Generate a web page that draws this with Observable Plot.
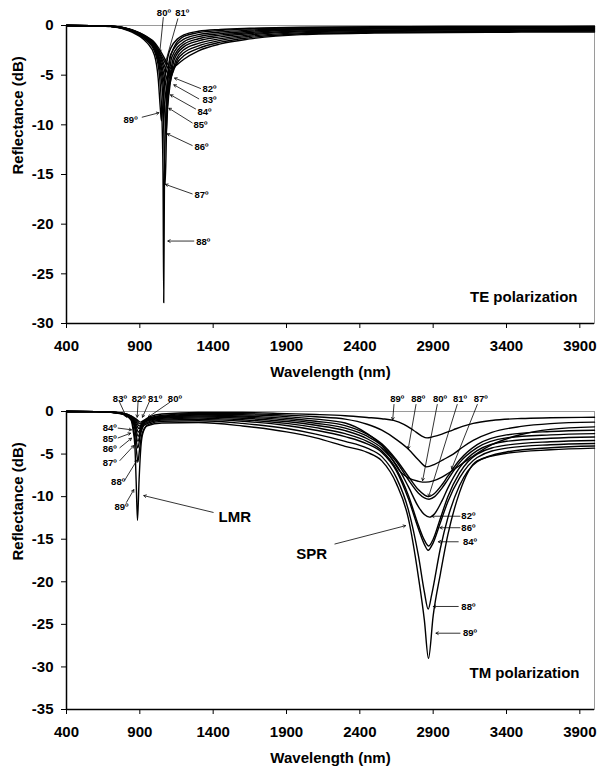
<!DOCTYPE html>
<html><head><meta charset="utf-8">
<script src="https://cdn.jsdelivr.net/npm/d3@7"></script>
<script src="https://cdn.jsdelivr.net/npm/@observablehq/plot@0.6"></script>
<style>
body{margin:0;background:#fff;}
#chart{width:597px;}
#chart svg{display:block;}
</style></head><body><div id="chart"></div>
<script>
const FONT = "'Liberation Sans', Arial, Helvetica, sans-serif";
const xDomain = [400, 4000];
const xTicks = [400, 900, 1400, 1900, 2400, 2900, 3400, 3900];
const teYDomain = [-30, 0];
const teYTicks = [-30, -25, -20, -15, -10, -5, 0];
const tmYDomain = [-35, 0];
const tmYTicks = [-35, -30, -25, -20, -15, -10, -5, 0];
const angles = [80, 81, 82, 83, 84, 85, 86, 87, 88, 89];

// TE polarization: [wavelength nm, reflectance dB]
const te80 = [[400,0],[600,-0.03],[700,-0.07],[750,-0.12],[800,-0.25],[850,-0.45],[900,-0.75],[950,-1.15],[1000,-1.7],[1042,-2.6],[1080,-3.6],[1110,-4.3],[1140,-4.1],[1170,-3.75],[1200,-3.4],[1300,-2.55],[1450,-1.85],[1650,-1.35],[2000,-0.92],[2500,-0.76],[3000,-0.7],[3500,-0.67],[4000,-0.65]];
const te81 = [[400,0],[600,-0.03],[700,-0.07],[750,-0.13],[800,-0.26],[850,-0.47],[900,-0.78],[950,-1.2],[1000,-1.8],[1040,-2.8],[1078,-3.9],[1108,-4.6],[1135,-4.25],[1165,-3.55],[1200,-3.05],[1300,-2.3],[1450,-1.68],[1650,-1.22],[2000,-0.83],[2500,-0.68],[3000,-0.62],[3500,-0.59],[4000,-0.57]];
const te82 = [[400,0],[600,-0.03],[700,-0.07],[750,-0.13],[800,-0.27],[850,-0.49],[900,-0.8],[950,-1.25],[1000,-1.9],[1040,-3.0],[1075,-4.3],[1105,-5.3],[1128,-4.6],[1158,-3.4],[1200,-2.75],[1300,-2.05],[1450,-1.5],[1650,-1.08],[2000,-0.74],[2500,-0.6],[3000,-0.54],[3500,-0.51],[4000,-0.5]];
const te83 = [[400,0],[600,-0.03],[700,-0.08],[750,-0.14],[800,-0.28],[850,-0.5],[900,-0.82],[950,-1.3],[1000,-2.0],[1040,-3.2],[1072,-4.7],[1100,-6.0],[1120,-4.9],[1148,-3.4],[1200,-2.45],[1300,-1.8],[1450,-1.32],[1650,-0.95],[2000,-0.64],[2500,-0.52],[3000,-0.47],[3500,-0.44],[4000,-0.43]];
const te84 = [[400,0],[600,-0.03],[700,-0.08],[750,-0.15],[800,-0.29],[850,-0.52],[900,-0.85],[950,-1.35],[1000,-2.1],[1040,-3.5],[1068,-5.2],[1094,-7.1],[1112,-5.2],[1135,-3.4],[1200,-2.15],[1300,-1.55],[1450,-1.14],[1650,-0.82],[2000,-0.55],[2500,-0.44],[3000,-0.4],[3500,-0.37],[4000,-0.36]];
const te85 = [[400,0],[600,-0.03],[700,-0.08],[750,-0.15],[800,-0.3],[850,-0.54],[900,-0.88],[950,-1.4],[1000,-2.2],[1040,-3.8],[1066,-5.8],[1088,-8.3],[1104,-5.6],[1128,-3.3],[1200,-1.9],[1300,-1.33],[1450,-0.97],[1650,-0.7],[2000,-0.46],[2500,-0.37],[3000,-0.33],[3500,-0.31],[4000,-0.3]];
const te86 = [[400,0],[600,-0.03],[700,-0.09],[750,-0.16],[800,-0.31],[850,-0.56],[900,-0.92],[950,-1.45],[1000,-2.3],[1040,-4.2],[1062,-6.5],[1080,-10.9],[1094,-6.5],[1118,-3.2],[1200,-1.65],[1300,-1.12],[1450,-0.82],[1650,-0.58],[2000,-0.38],[2500,-0.3],[3000,-0.27],[3500,-0.25],[4000,-0.24]];
const te87 = [[400,0],[600,-0.03],[700,-0.09],[750,-0.17],[800,-0.33],[850,-0.59],[900,-0.96],[950,-1.5],[1000,-2.4],[1040,-4.8],[1058,-7.5],[1073,-16],[1086,-7.5],[1108,-3.0],[1200,-1.38],[1300,-0.92],[1450,-0.66],[1650,-0.47],[2000,-0.3],[2500,-0.23],[3000,-0.2],[3500,-0.19],[4000,-0.18]];
const te88 = [[400,0],[600,-0.03],[700,-0.09],[750,-0.18],[800,-0.35],[850,-0.62],[900,-1.0],[950,-1.55],[1000,-2.6],[1030,-4.5],[1050,-9],[1058,-15],[1063,-27.9],[1068,-15],[1077,-9],[1095,-4.2],[1130,-2.3],[1200,-1.1],[1300,-0.72],[1450,-0.5],[1650,-0.35],[2000,-0.22],[2500,-0.16],[3000,-0.14],[3500,-0.13],[4000,-0.12]];
const te89 = [[400,0],[600,-0.04],[700,-0.1],[750,-0.2],[800,-0.4],[850,-0.7],[900,-1.1],[950,-1.75],[1000,-3.0],[1025,-5.3],[1040,-8.4],[1047,-9.6],[1056,-8.2],[1075,-4.6],[1110,-2.3],[1200,-0.95],[1300,-0.58],[1450,-0.4],[1650,-0.28],[2000,-0.17],[2500,-0.12],[3000,-0.1],[3500,-0.09],[4000,-0.08]];

// TM polarization
const tm80 = [[400,0],[600,-0.02],[700,-0.06],[780,-0.18],[840,-0.5],[880,-0.95],[905,-1.25],[930,-1.0],[970,-0.6],[1050,-0.3],[1300,-0.12],[1600,-0.12],[1900,-0.25],[2100,-0.35],[2300,-0.5],[2450,-0.7],[2550,-0.85],[2630,-1.05],[2700,-1.5],[2765,-2.2],[2820,-2.85],[2858,-3.1],[2900,-2.95],[2960,-2.65],[3037,-2.15],[3100,-1.75],[3173,-1.4],[3300,-1.05],[3500,-0.82],[3700,-0.74],[4000,-0.67]];
const tm81 = [[400,0],[600,-0.02],[700,-0.07],[780,-0.2],[840,-0.55],[875,-1.05],[901,-1.45],[925,-1.15],[960,-0.8],[1050,-0.45],[1300,-0.22],[1600,-0.25],[1900,-0.42],[2100,-0.62],[2300,-0.9],[2450,-1.5],[2550,-2.2],[2650,-3.3],[2730,-4.4],[2800,-5.7],[2855,-6.5],[2910,-6.2],[2970,-5.65],[3037,-5.0],[3100,-4.2],[3173,-3.4],[3300,-2.45],[3500,-1.75],[3700,-1.42],[4000,-1.25]];
const tm82 = [[400,0],[600,-0.02],[700,-0.07],[780,-0.21],[840,-0.6],[872,-1.15],[897,-1.7],[920,-1.3],[955,-0.9],[1050,-0.55],[1300,-0.32],[1600,-0.38],[1900,-0.6],[2100,-0.9],[2300,-1.35],[2450,-2.6],[2550,-4.0],[2620,-5.6],[2673,-7.0],[2730,-7.8],[2800,-8.2],[2850,-8.3],[2900,-8.15],[2960,-7.7],[3026,-7.0],[3100,-6.1],[3200,-4.9],[3300,-3.9],[3500,-2.7],[3700,-2.1],[4000,-1.8]];
const tm83 = [[400,0],[600,-0.02],[700,-0.07],[780,-0.22],[840,-0.65],[870,-1.3],[894,-2.0],[915,-1.5],[950,-1.0],[1050,-0.62],[1300,-0.42],[1600,-0.52],[1900,-0.8],[2100,-1.15],[2300,-1.65],[2450,-2.65],[2550,-3.8],[2650,-5.7],[2730,-7.6],[2800,-9.2],[2840,-9.8],[2868,-10.0],[2900,-9.75],[2960,-8.6],[3000,-7.6],[3080,-5.7],[3200,-3.9],[3400,-2.75],[3700,-2.35],[4000,-2.2]];
const tm84 = [[400,0],[600,-0.02],[700,-0.08],[780,-0.23],[840,-0.7],[868,-1.45],[891,-2.4],[912,-1.7],[945,-1.1],[1050,-0.7],[1300,-0.53],[1600,-0.65],[1900,-0.98],[2100,-1.38],[2300,-1.95],[2450,-2.9],[2550,-4.0],[2650,-5.9],[2730,-8.0],[2800,-9.6],[2840,-10.15],[2872,-10.3],[2910,-10.0],[2960,-9.0],[3000,-8.0],[3080,-6.0],[3200,-4.25],[3400,-3.1],[3700,-2.75],[4000,-2.6]];
const tm85 = [[400,0],[600,-0.02],[700,-0.08],[780,-0.24],[840,-0.75],[866,-1.6],[889,-2.9],[910,-1.9],[940,-1.2],[1050,-0.8],[1300,-0.65],[1600,-0.8],[1900,-1.18],[2100,-1.62],[2300,-2.25],[2450,-3.2],[2550,-4.3],[2650,-6.3],[2730,-8.8],[2800,-11.2],[2840,-12.1],[2875,-12.4],[2910,-12.0],[2960,-10.5],[3000,-9.0],[3080,-6.6],[3200,-4.6],[3400,-3.5],[3700,-3.15],[4000,-3.0]];
const tm86 = [[400,0],[600,-0.02],[700,-0.08],[780,-0.25],[840,-0.8],[865,-1.75],[887,-3.5],[907,-2.3],[935,-1.4],[1050,-0.9],[1300,-0.78],[1600,-0.97],[1900,-1.4],[2100,-1.9],[2300,-2.6],[2450,-3.5],[2550,-4.6],[2650,-6.8],[2730,-9.8],[2800,-13.4],[2840,-15.1],[2870,-15.8],[2900,-15.0],[2950,-12.5],[3000,-10.0],[3080,-7.2],[3200,-5.0],[3400,-3.95],[3700,-3.55],[4000,-3.4]];
const tm87 = [[400,0],[600,-0.02],[700,-0.09],[780,-0.26],[840,-0.85],[866,-2.0],[886,-4.3],[904,-2.7],[930,-1.6],[1050,-1.0],[1300,-0.92],[1600,-1.15],[1900,-1.65],[2100,-2.2],[2300,-2.95],[2450,-3.8],[2550,-4.8],[2650,-7.0],[2730,-10.2],[2800,-13.8],[2840,-15.6],[2866,-16.3],[2895,-15.6],[2950,-13.0],[3000,-10.6],[3080,-7.8],[3200,-5.4],[3400,-4.3],[3700,-3.9],[4000,-3.75]];
const tm88 = [[400,0],[600,-0.02],[700,-0.09],[780,-0.27],[840,-0.9],[866,-3.0],[877,-4.6],[887,-5.9],[897,-4.6],[910,-3.0],[930,-2.0],[960,-1.5],[1050,-1.15],[1300,-1.08],[1600,-1.4],[1900,-2.0],[2100,-2.65],[2300,-3.5],[2450,-4.3],[2550,-5.3],[2650,-7.8],[2730,-11.5],[2800,-17],[2840,-21.2],[2866,-23.2],[2890,-21.5],[2950,-16],[3000,-12.5],[3080,-8.7],[3200,-5.9],[3400,-4.75],[3700,-4.25],[4000,-4.05]];
const tm89 = [[400,0],[600,-0.02],[700,-0.1],[780,-0.3],[840,-1.0],[855,-2.3],[866,-4.0],[875,-8.2],[884,-12.8],[895,-8.0],[907,-4.2],[920,-2.6],[950,-1.7],[1050,-1.35],[1300,-1.3],[1600,-1.7],[1900,-2.4],[2100,-3.1],[2300,-4.1],[2450,-4.8],[2550,-5.8],[2650,-8.5],[2730,-12.5],[2800,-19.5],[2840,-24.5],[2868,-29],[2900,-24],[2950,-19],[3000,-14.5],[3080,-9.5],[3200,-5.8],[3400,-4.9],[3700,-4.5],[4000,-4.3]];

// annotation labels: [text, wavelength, dB]
const teLabels = [["80º",1064,1.24],["81º",1189,1.24],["82º",1375,-6.4],["83º",1375,-7.5],["84º",1341,-8.7],["85º",1314,-10.0],["86º",1320,-12.26],["87º",1320,-17.1],["88º",1332,-21.8],["89º",837,-9.5]];
const teArrows = [[1060,0.8,1036,-2.69],[1159,0.67,1075,-3.7],[1314,-6.34,1137,-5.29],[1302,-7.38,1132,-5.97],[1280,-8.4,1109,-6.98],[1257,-9.8,1098,-8.33],[1257,-12.08,1087,-10.9],[1257,-16.95,1075,-16.0],[1268,-21.7,1091,-21.7],[916,-9.23,1030,-8.79]];
const tmLabels = [["83º",764,1.53],["82º",893,1.53],["81º",1004,1.53],["80º",1139,1.53],
  ["84º",695,-1.95],["85º",695,-3.2],["86º",695,-4.45],["87º",695,-6.1],["88º",752,-8.32],["89º",775,-11.26],
  ["89º",2655,1.49],["88º",2798,1.49],["80º",2946,1.49],["81º",3083,1.49],["87º",3224,1.49],
  ["82º",3140,-12.3],["86º",3140,-13.65],["84º",3151,-15.3],["88º",3140,-22.9],["89º",3151,-26.04]];
const tmBigLabels = [["LMR",1548,-12.43],["SPR",2071,-16.74]];
const tmArrows = [[759,1.21,809,-0.67],[888,1.21,882,-0.67],[963,1.09,918,-0.67],[1105,1.09,957,-0.67],
  [752,-1.95,843,-2.15],[752,-3.1,837,-2.55],[764,-4.25,843,-3.14],[764,-5.76,859,-4.0],[798,-8.04,882,-5.68],[809,-10.67,859,-9.18],
  [1400,-11.85,927,-9.88],
  [2633,0.82,2624,-0.98],[2783,0.82,2730,-4.39],[2928,0.82,2828,-8.12],[3064,0.82,2869,-10.0],[3201,0.82,3026,-6.74],
  [3083,-12.3,2890,-12.3],[3083,-13.65,2946,-13.65],[3071,-15.3,2935,-15.3],[3071,-22.9,2901,-22.9],[3083,-26.04,2919,-26.04],
  [2230,-15.56,2712,-13.41]];

const teCurves = [te80, te81, te82, te83, te84, te85, te86, te87, te88, te89];
const tmCurves = [tm80, tm81, tm82, tm83, tm84, tm85, tm86, tm87, tm88, tm89];
const toRows = curves => angles.flatMap((a, i) => curves[i].map(([wl, db]) => ({angle: a, wl, db})));
const toLabels = arr => arr.map(([t, x, y]) => ({t, x, y}));
const toArrows = arr => arr.map(([x1, y1, x2, y2]) => ({x1, y1, x2, y2}));

function panel({curves, yDomain, yTicks, height, marginTop, marginBottom, labels, big, arrows, pol, polDx, polDy}) {
  return Plot.plot({
    width: 597, height, marginLeft: 66, marginRight: 3, marginTop, marginBottom,
    style: {fontFamily: FONT, fontWeight: "bold", fontSize: "15px", background: "#fff", color: "#000"},
    x: {domain: xDomain},
    y: {domain: yDomain},
    marks: [
      Plot.frame({stroke: "#9a9a9a", strokeWidth: 1}),
      Plot.line(toRows(curves), {x: "wl", y: "db", z: "angle", curve: "monotone-x", stroke: "#000", strokeWidth: 1.4}),
      Plot.ruleX([xDomain[0]], {stroke: "#000", strokeWidth: 1.5}),
      Plot.ruleY([yDomain[0]], {stroke: "#000", strokeWidth: 1.5}),
      Plot.axisX({ticks: xTicks, tickFormat: d => String(d), tickSize: 5, tickPadding: 12, fontSize: 15, fontWeight: "bold", label: null}),
      Plot.axisY({ticks: yTicks, tickFormat: d => String(d), tickSize: 5, tickPadding: 8, fontSize: 15, fontWeight: "bold", label: null}),
      Plot.arrow(toArrows(arrows), {x1: "x1", y1: "y1", x2: "x2", y2: "y2", stroke: "#000", strokeWidth: 0.8, headLength: 5}),
      Plot.text(toLabels(labels), {x: "x", y: "y", text: "t", fontSize: 9.5, fontWeight: "bold", fill: "#000"}),
      big ? Plot.text(toLabels(big), {x: "x", y: "y", text: "t", fontSize: 15, fontWeight: "bold", fill: "#000"}) : null,
      Plot.text(["Reflectance (dB)"], {text: d => d, frameAnchor: "left", dx: -48, rotate: -90, fontSize: 15, fontWeight: "bold", fill: "#000"}),
      Plot.text(["Wavelength (nm)"], {text: d => d, frameAnchor: "bottom", dy: 49, lineAnchor: "middle", fontSize: 15, fontWeight: "bold", fill: "#000"}),
      Plot.text([pol], {text: d => d, frameAnchor: "bottom-right", textAnchor: "end", lineAnchor: "middle", dx: polDx, dy: polDy, fontSize: 15, fontWeight: "bold", fill: "#000"})
    ]
  });
}

const chart = document.getElementById("chart");
chart.appendChild(panel({curves: teCurves, yDomain: teYDomain, yTicks: teYTicks, height: 385, marginTop: 25, marginBottom: 62,
  labels: teLabels, big: null, arrows: teArrows, pol: "TE polarization", polDx: -17, polDy: -26}));
chart.appendChild(panel({curves: tmCurves, yDomain: tmYDomain, yTicks: tmYTicks, height: 384, marginTop: 26, marginBottom: 60,
  labels: tmLabels, big: tmBigLabels, arrows: tmArrows, pol: "TM polarization", polDx: -15, polDy: -36}));
</script></body></html>
